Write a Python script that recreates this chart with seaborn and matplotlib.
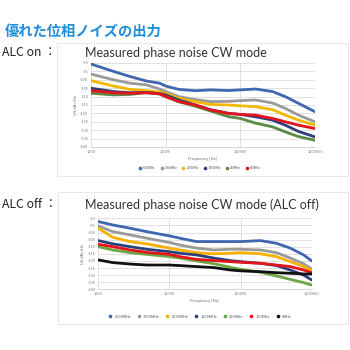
import matplotlib
matplotlib.use("Agg")
import matplotlib.pyplot as plt
from matplotlib.patches import Rectangle
import numpy as np
import pandas as pd
import seaborn as sns

sns.set_theme(style="white")
plt.rcParams['font.family'] = ['Noto Sans CJK JP', 'DejaVu Sans']

# ---- ALC on ----
freq_on = [1000, 2000, 3300, 5500, 8300, 10000, 15000, 25000, 40000, 70000,
           100000, 160000, 270000, 400000, 600000, 1000000]
on_6000 = [-90.6, -95.0, -98.0, -100.7, -102.0, -103.7, -105.7, -106.5, -106.0, -106.4,
           -106.0, -105.5, -107.0, -110.0, -114.0, -119.0]
on_3000 = [-96.6, -100.0, -102.0, -103.0, -105.5, -107.0, -110.0, -111.8, -113.0, -112.8,
           -112.4, -112.0, -113.8, -117.0, -121.0, -125.0]
on_2000 = [-100.5, -103.7, -105.7, -106.5, -107.3, -108.0, -111.0, -113.0, -114.7, -115.0,
           -115.5, -116.0, -117.8, -121.0, -124.0, -127.0]
on_1000 = [-105.0, -107.0, -107.7, -107.5, -108.2, -109.0, -112.0, -115.0, -117.8, -120.0,
           -120.6, -122.0, -124.0, -127.0, -130.7, -134.0]
on_250 = [-108.0, -109.0, -108.7, -107.7, -108.5, -110.0, -113.0, -115.8, -118.6, -122.0,
          -123.0, -125.8, -128.0, -131.0, -133.8, -136.0]
on_100 = [-106.5, -107.7, -108.0, -107.7, -108.3, -110.0, -113.0, -115.0, -118.0, -120.0,
          -120.6, -121.0, -123.0, -125.0, -127.0, -129.0]
labels_on = ["6000MHz", "3000MHz", "2000MHz", "1000MHz", "250MHz", "100MHz"]
colors_on = ["#3f66b0", "#9a9a9a", "#f5b800", "#2c3f7a", "#5b8a44", "#e3141c"]

# ---- ALC off ----
freq_off = [1000, 1600, 2800, 4800, 10000, 14000, 24000, 42000, 72000,
            100000, 190000, 320000, 500000, 770000, 1000000]
off_6000 = [-92.3, -94.7, -97.0, -99.4, -102.4, -104.0, -106.4, -106.4, -106.4,
            -106.4, -105.7, -107.6, -111.0, -115.8, -120.0]
off_3000 = [-95.4, -99.4, -101.7, -104.0, -107.0, -108.8, -111.0, -112.3, -111.8,
            -111.8, -112.3, -114.2, -118.0, -122.0, -125.7]
off_2000 = [-97.0, -103.4, -106.4, -108.0, -111.0, -112.3, -114.2, -115.0, -114.6,
            -114.2, -115.0, -117.0, -120.5, -124.0, -126.8]
off_1000 = [-105.7, -108.0, -110.0, -111.8, -113.5, -114.6, -115.8, -118.0, -119.8,
            -120.5, -121.7, -123.3, -126.4, -130.0, -133.4]
off_250 = [-110.0, -112.3, -114.2, -115.4, -117.0, -118.0, -120.0, -122.0, -124.5,
           -126.0, -128.0, -130.6, -133.0, -135.3, -137.0]
off_100 = [-108.3, -110.0, -112.3, -114.0, -115.4, -117.0, -118.9, -119.8, -120.5,
           -121.0, -121.7, -122.9, -124.0, -126.4, -128.3]
off_5 = [-119.3, -121.2, -122.2, -122.9, -122.9, -123.3, -124.0, -124.7, -126.4,
         -127.0, -127.6, -128.3, -128.7, -129.2, -129.2]
labels_off = ["6000MHz", "3000MHz", "2000MHz", "1000MHz", "250MHz", "100MHz", "5MHz"]
colors_off = ["#3f66b0", "#9a9a9a", "#f5b000", "#2c3f7a", "#6aa845", "#e3141c", "#111111"]

y_ticks = [-90, -95, -100, -105, -110, -115, -120, -125, -130, -135, -140]
x_ticks = [1000, 10000, 100000, 1000000]
x_tick_labels = ["1000", "10000", "100000", "1000000"]

W = H = 350
fig = plt.figure(figsize=(3.5, 3.5), dpi=100)
fig.patch.set_facecolor("white")


def fx(px):
    return px / W


def fy(py):
    return 1 - py / H


def panel(x0, y0, x1, y1):
    fig.patches.append(Rectangle((fx(x0), fy(y1)), fx(x1 - x0), (y1 - y0) / H,
                                 transform=fig.transFigure, facecolor="white",
                                 edgecolor="#e4e4e4", linewidth=0.6, zorder=-5))


def draw(ax, freq, series, labels, colors, legend_y, legend_size, legend_gap):
    frames = []
    for name, vals in zip(labels, series):
        frames.append(pd.DataFrame({"freq": freq, "noise": vals, "carrier": name}))
    df = pd.concat(frames, ignore_index=True)
    sns.lineplot(data=df, x="freq", y="noise", hue="carrier", hue_order=labels,
                 palette=colors, linewidth=2.0, ax=ax, legend=False)
    ax.set_facecolor("none")
    ax.set_xscale("log")
    ax.set_xlim(1000, 1000000)
    ax.set_ylim(-140, -90)
    ax.set_yticks(y_ticks)
    ax.set_yticklabels([str(v) for v in y_ticks])
    ax.set_xticks(x_ticks)
    ax.set_xticklabels(x_tick_labels)
    ax.xaxis.set_minor_locator(matplotlib.ticker.NullLocator())
    ax.tick_params(labelsize=2.8, colors="#777777", length=0, pad=2)
    ax.grid(True, color="#dcdcdc", linewidth=0.6)
    ax.set_axisbelow(True)
    for s in ["left", "right", "top"]:
        ax.spines[s].set_visible(False)
    ax.spines["bottom"].set_color("#cfcfcf")
    ax.spines["bottom"].set_linewidth(0.6)
    ax.set_xlabel("Frequency [Hz]", fontsize=3.0, color="#666666", labelpad=2)
    ax.set_ylabel("LN dBc/Hz", fontsize=3.0, color="#666666", labelpad=2)
    handles = [plt.Line2D([], [], marker="o", linestyle="", markersize=1.6,
                          color=c, label=l) for l, c in zip(labels, colors)]
    fig.legend(handles=handles, loc="center", bbox_to_anchor=(fx(199), fy(legend_y)),
               ncol=len(labels), frameon=False, fontsize=legend_size, handletextpad=0.1,
               columnspacing=legend_gap, labelcolor="#555555", borderaxespad=0)


# Header
fig.text(fx(5), fy(32), "優れた位相ノイズの出力", fontsize=10.3, color="#1f8ed8",
         fontweight="bold", va="center", ha="left")

# ALC on block
panel(57, 43, 348, 176)
fig.text(fx(2), fy(52), "ALC on ：", fontsize=8.8, color="#222222", va="center", ha="left")
fig.text(fx(85), fy(53), "Measured phase noise CW mode", fontsize=9.0, color="#333333",
         va="center", ha="left", family=["Lato", "DejaVu Sans"])
ax1 = fig.add_axes([fx(91), fy(147), (315 - 91) / W, (147 - 63) / H])
draw(ax1, freq_on, [on_6000, on_3000, on_2000, on_1000, on_250, on_100],
     labels_on, colors_on, 168, 2.2, 0.9)

# ALC off block
panel(58, 192, 348, 324)
fig.text(fx(2), fy(205), "ALC off ：", fontsize=8.8, color="#222222", va="center", ha="left")
fig.text(fx(85), fy(205), "Measured phase noise CW mode (ALC off)", fontsize=9.0,
         color="#333333", va="center", ha="left", family=["Lato", "DejaVu Sans"])
ax2 = fig.add_axes([fx(98.3), fy(289.3), (311.7 - 98.3) / W, (289.3 - 218.3) / H])
draw(ax2, freq_off, [off_6000, off_3000, off_2000, off_1000, off_250, off_100, off_5],
     labels_off, colors_off, 316.7, 2.8, 1.0)

fig.savefig("out.png", dpi=100, facecolor="white")
